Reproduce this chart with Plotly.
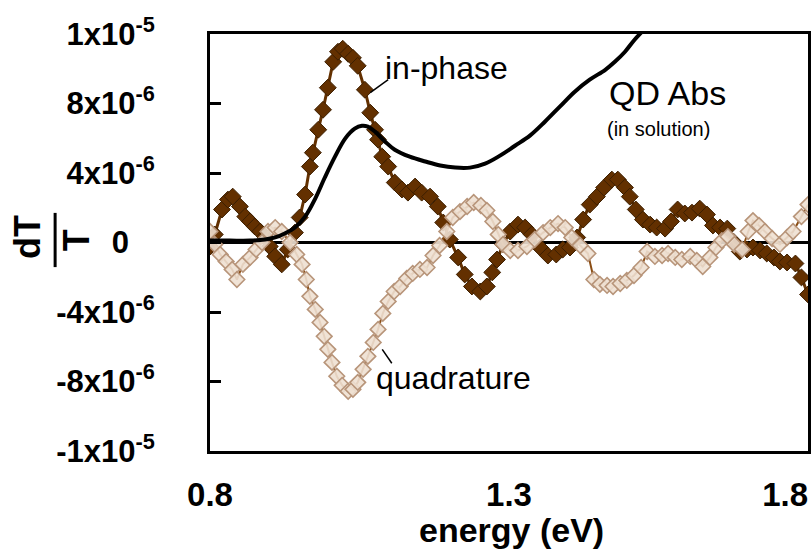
import plotly.graph_objects as go

# ---------------- data (energy in eV, signal in units of 1e-6) ----------------
inphase_E = [0.800, 0.808, 0.820, 0.830, 0.838, 0.850, 0.859, 0.867, 0.875, 0.884,
             0.892, 0.900, 0.909, 0.920, 0.930, 0.942, 0.950, 0.959, 0.967, 0.972,
             0.981, 0.989, 0.997, 1.006, 1.014, 1.022, 1.031, 1.039, 1.047, 1.059,
             1.068, 1.076, 1.081, 1.088, 1.098, 1.109, 1.121, 1.131, 1.143, 1.154,
             1.168, 1.181, 1.190, 1.201, 1.215, 1.226, 1.238, 1.252, 1.263, 1.272,
             1.280, 1.290, 1.302, 1.315, 1.327, 1.338, 1.352, 1.365, 1.379, 1.390,
             1.402, 1.414, 1.424, 1.435, 1.447, 1.459, 1.472, 1.482, 1.494, 1.502,
             1.512, 1.524, 1.536, 1.547, 1.561, 1.571, 1.582, 1.594, 1.606, 1.619,
             1.631, 1.641, 1.653, 1.665, 1.675, 1.686, 1.698, 1.708, 1.720, 1.731,
             1.743, 1.753, 1.765, 1.779, 1.789, 1.800]
inphase_v = [-0.23, 0.46, 1.90, 2.47, 2.64, 2.07, 1.49, 1.21, 0.92, 0.63,
             0.34, -0.23, -0.80, -1.26, -0.40, 0.57, 1.44, 2.76, 4.37, 5.17,
             6.49, 7.64, 8.91, 10.40, 10.98, 11.15, 10.86, 10.63, 10.17, 8.79,
             7.47, 6.49, 5.92, 4.94, 4.37, 3.45, 3.05, 2.87, 3.22, 2.87,
             2.64, 2.07, 1.15, 0.17, -0.86, -1.84, -2.53, -2.82, -2.53, -1.72,
             -0.98, -0.11, 0.63, 1.03, 0.86, 0.46, -0.29, -0.75, -0.69, -0.40,
             -0.29, 0.29, 1.32, 2.18, 2.64, 3.16, 3.62, 3.62, 3.16, 2.64,
             1.90, 1.32, 1.03, 0.86, 0.80, 1.21, 1.90, 1.67, 1.72, 1.95,
             1.61, 0.98, 0.86, 0.80, 0.06, -0.52, -0.40, -0.29, -0.46, -0.63,
             -0.86, -1.09, -1.15, -1.21, -2.01, -2.99]

quad_E = [0.800, 0.808, 0.817, 0.827, 0.837, 0.845, 0.855, 0.867, 0.877, 0.887,
          0.897, 0.909, 0.920, 0.934, 0.945, 0.954, 0.961, 0.967, 0.976, 0.984,
          0.991, 0.997, 1.004, 1.012, 1.021, 1.031, 1.039, 1.047, 1.056, 1.064,
          1.073, 1.081, 1.089, 1.098, 1.108, 1.118, 1.129, 1.139, 1.151, 1.163,
          1.173, 1.184, 1.196, 1.206, 1.218, 1.230, 1.241, 1.253, 1.263, 1.273,
          1.282, 1.290, 1.302, 1.315, 1.330, 1.343, 1.357, 1.369, 1.382, 1.394,
          1.405, 1.419, 1.432, 1.442, 1.452, 1.464, 1.474, 1.486, 1.497, 1.509,
          1.521, 1.531, 1.544, 1.556, 1.566, 1.578, 1.589, 1.603, 1.614, 1.624,
          1.636, 1.646, 1.656, 1.666, 1.677, 1.690, 1.700, 1.708, 1.718, 1.728,
          1.740, 1.753, 1.765, 1.775, 1.789, 1.800]
quad_v = [0.63, -0.11, -0.69, -1.09, -1.55, -2.13, -1.26, -0.86, -0.40, 0.00,
          0.63, 0.86, 0.63, 0.00, -0.69, -1.26, -2.13, -3.10, -3.85, -4.60,
          -5.40, -6.15, -6.90, -7.70, -8.22, -8.56, -8.45, -8.05, -7.30, -6.55,
          -5.75, -5.00, -4.08, -3.39, -2.82, -2.53, -2.07, -1.78, -1.55, -1.44,
          -0.75, -0.17, 0.63, 1.44, 1.78, 2.07, 2.30, 2.13, 1.84, 1.21,
          0.46, -0.11, -0.46, -0.46, -0.23, 0.17, 0.57, 0.86, 1.09, 0.86,
          0.29, -0.17, -0.63, -2.13, -2.41, -2.47, -2.53, -2.36, -2.18, -1.90,
          -1.44, -0.52, -0.80, -0.75, -0.63, -0.86, -0.98, -0.80, -1.03, -1.38,
          -0.86, -0.29, 0.11, 0.34, -0.11, -0.40, 0.63, 1.26, 0.98, 0.63,
          0.23, -0.11, 0.29, 0.63, 1.49, 2.18]

abs_E = [0.800, 0.833, 0.867, 0.892, 0.909, 0.925, 0.942, 0.959, 0.976, 0.992,
         1.009, 1.026, 1.042, 1.054, 1.064, 1.076, 1.093, 1.109, 1.134, 1.160,
         1.185, 1.210, 1.235, 1.260, 1.285, 1.310, 1.335, 1.360, 1.385, 1.410,
         1.435, 1.461, 1.477, 1.494, 1.510, 1.527]
abs_v = [0.11, 0.11, 0.11, 0.17, 0.29, 0.52, 0.86, 1.49, 2.53, 3.74,
         4.94, 5.98, 6.55, 6.72, 6.67, 6.38, 5.80, 5.34, 4.94, 4.66,
         4.43, 4.31, 4.31, 4.54, 5.00, 5.57, 6.15, 6.95, 7.82, 8.68,
         9.37, 9.94, 10.40, 10.98, 11.67, 12.30]

SCALE = 1e-6
y_tickvals = [-12e-6, -8e-6, -4e-6, 0, 4e-6, 8e-6, 12e-6]
y_ticktext = ["-1x10<sup>-5</sup>", "-8x10<sup>-6</sup>", "-4x10<sup>-6</sup>",
              "0\u00a0\u00a0\u00a0", "4x10<sup>-6</sup>", "8x10<sup>-6</sup>", "1x10<sup>-5</sup>"]
x_tickvals = [0.8, 1.3, 1.8]
x_ticktext = ["0.8", "1.3", "1.8\u00a0\u00a0\u00a0\u00a0\u00a0"]

FONT = "Liberation Sans, Arial, sans-serif"

fig = go.Figure()

fig.add_trace(go.Scatter(
    x=inphase_E, y=[v * SCALE for v in inphase_v], mode="lines+markers",
    line=dict(color="#633000", width=3),
    marker=dict(symbol="diamond", size=13, color="#633000",
                line=dict(color="#3d1f00", width=1)),
    name="in-phase", showlegend=False, cliponaxis=True))

fig.add_trace(go.Scatter(
    x=quad_E, y=[v * SCALE for v in quad_v], mode="lines+markers",
    line=dict(color="#8a4d14", width=2),
    marker=dict(symbol="diamond", size=12, color="rgba(238,224,210,0.9)",
                line=dict(color="#b8957a", width=1.6)),
    name="quadrature", showlegend=False, cliponaxis=True))

fig.add_trace(go.Scatter(
    x=abs_E, y=[v * SCALE for v in abs_v], mode="lines",
    line=dict(color="black", width=4, shape="spline"),
    name="QD Abs", showlegend=False))

fig.update_layout(
    width=811, height=552,
    margin=dict(l=210, r=3, t=34, b=101),
    paper_bgcolor="white", plot_bgcolor="white",
    font=dict(family=FONT, color="black"),
    xaxis=dict(range=[0.8, 1.8], tickvals=x_tickvals, ticktext=x_ticktext,
               automargin=False, ticklabeloverflow="allow",
               showgrid=False, zeroline=False, showline=True, linecolor="black",
               linewidth=3, mirror=True, ticks="", ticklabelstandoff=12,
               tickfont=dict(size=33, family=FONT, weight="bold")),
    yaxis=dict(range=[-12e-6, 12e-6], tickvals=y_tickvals, ticktext=y_ticktext,
               automargin=False,
               showgrid=False, zeroline=True, zerolinecolor="black", zerolinewidth=2.5,
               showline=True, linecolor="black", linewidth=3, mirror=True,
               ticks="inside", ticklen=11, tickwidth=2.5, tickcolor="black",
               ticklabelstandoff=46,
               tickfont=dict(size=31, family=FONT, weight="bold")),
)

ann = [
    dict(x=1.089, y=10.06e-6, text="in-phase", xanchor="left", yanchor="middle",
         font=dict(size=32)),
    dict(x=1.464, y=8.62e-6, text="QD Abs", xanchor="left", yanchor="middle",
         font=dict(size=34)),
    dict(x=1.460, y=6.55e-6, text="(in solution)", xanchor="left", yanchor="middle",
         font=dict(size=20)),
    dict(x=1.074, y=-7.82e-6, text="quadrature", xanchor="left", yanchor="middle",
         font=dict(size=32)),
]
for a in ann:
    a.update(xref="x", yref="y", showarrow=False)
    a["font"]["family"] = FONT
    a["font"]["color"] = "black"
    fig.add_annotation(**a)

# axis titles
fig.add_annotation(x=0.505, y=-0.19, xref="paper", yref="paper", text="<b>energy (eV)</b>",
                   showarrow=False, xanchor="center", yanchor="middle",
                   font=dict(size=34, family=FONT, color="black"))
fig.add_annotation(x=-0.306, y=0.513, xref="paper", yref="paper", text="<b>dT</b>",
                   showarrow=False, textangle=-90, xanchor="center", yanchor="middle",
                   font=dict(size=36, family=FONT, color="black"))
fig.add_annotation(x=-0.222, y=0.506, xref="paper", yref="paper", text="<b>T</b>",
                   showarrow=False, textangle=-90, xanchor="center", yanchor="middle",
                   font=dict(size=36, family=FONT, color="black"))
fig.add_shape(type="line", xref="paper", yref="paper", x0=-0.259, x1=-0.259,
              y0=0.441, y1=0.571, line=dict(color="black", width=3))

# leader lines for labels
fig.add_shape(type="line", xref="x", yref="y", x0=1.068, y0=8.62e-6, x1=1.098, y1=9.37e-6,
              line=dict(color="black", width=1.5))
fig.add_shape(type="line", xref="x", yref="y", x0=1.088, y0=-6.15e-6, x1=1.104, y1=-6.95e-6,
              line=dict(color="black", width=1.5))

fig.write_html("out.html", config={"displayModeBar": False},
               post_script="document.body.style.margin='0';document.body.style.overflow='hidden';")
